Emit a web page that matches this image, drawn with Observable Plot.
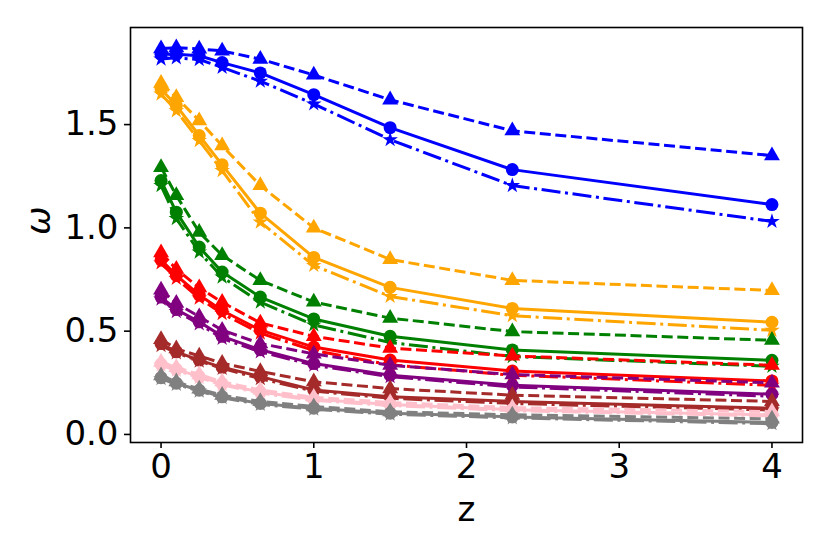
<!DOCTYPE html>
<html>
<head>
<meta charset="utf-8">
<script src="https://cdn.jsdelivr.net/npm/d3@7"></script>
<script src="https://cdn.jsdelivr.net/npm/@observablehq/plot@0.6"></script>
<style>
  html, body { margin: 0; padding: 0; background: #fff; }
  #chart { width: 830px; height: 554px; }
</style>
</head>
<body>
<div id="chart"></div>
<script>
// redshift grid
const z = [0, 0.1, 0.25, 0.4, 0.65, 1, 1.5, 2.3, 4];

// series values (solid = circle, dashed = triangle, dashdot = star)
const blueSolid   = [1.84, 1.84, 1.833, 1.80, 1.75, 1.645, 1.485, 1.282, 1.113];
const blueDashed  = [1.868, 1.872, 1.866, 1.857, 1.817, 1.74, 1.62, 1.47, 1.35];
const blueDashdot = [1.817, 1.823, 1.815, 1.777, 1.71, 1.60, 1.427, 1.205, 1.031];

const orangeSolid   = [1.672, 1.592, 1.447, 1.305, 1.071, 0.857, 0.712, 0.61, 0.543];
const orangeDashed  = [1.70, 1.632, 1.519, 1.398, 1.205, 1.00, 0.847, 0.746, 0.697];
const orangeDashdot = [1.648, 1.567, 1.423, 1.277, 1.028, 0.818, 0.668, 0.575, 0.504];

const greenSolid   = [1.229, 1.076, 0.907, 0.786, 0.665, 0.559, 0.475, 0.409, 0.359];
const greenDashed  = [1.293, 1.157, 0.979, 0.867, 0.746, 0.641, 0.563, 0.498, 0.456];
const greenDashdot = [1.205, 1.045, 0.883, 0.762, 0.64, 0.53, 0.445, 0.377, 0.33];

const redSolid   = [0.845, 0.77, 0.675, 0.60, 0.505, 0.423, 0.36, 0.307, 0.259];
const redDashed  = [0.88, 0.80, 0.71, 0.64, 0.54, 0.475, 0.418, 0.38, 0.335];
const redDashdot = [0.83, 0.755, 0.66, 0.585, 0.49, 0.407, 0.337, 0.287, 0.238];

const purpleSolid   = [0.665, 0.605, 0.545, 0.475, 0.41, 0.343, 0.287, 0.238, 0.195];
const purpleDashed  = [0.70, 0.635, 0.57, 0.505, 0.44, 0.39, 0.335, 0.29, 0.25];
const purpleDashdot = [0.655, 0.595, 0.535, 0.465, 0.40, 0.335, 0.28, 0.23, 0.185];

const brownSolid   = [0.44, 0.40, 0.36, 0.325, 0.28, 0.215, 0.182, 0.16, 0.127];
const brownDashed  = [0.46, 0.415, 0.38, 0.345, 0.305, 0.255, 0.222, 0.19, 0.16];
const brownDashdot = [0.43, 0.395, 0.355, 0.32, 0.27, 0.21, 0.175, 0.15, 0.118];

const pinkSolid   = [0.34, 0.315, 0.28, 0.245, 0.205, 0.17, 0.145, 0.12, 0.095];
const pinkDashed  = [0.35, 0.325, 0.29, 0.255, 0.215, 0.18, 0.155, 0.13, 0.11];
const pinkDashdot = [0.335, 0.31, 0.275, 0.24, 0.20, 0.165, 0.14, 0.115, 0.09];

const graySolid   = [0.275, 0.248, 0.214, 0.182, 0.15, 0.127, 0.103, 0.085, 0.058];
const grayDashed  = [0.285, 0.255, 0.22, 0.19, 0.16, 0.135, 0.11, 0.095, 0.075];
const grayDashdot = [0.27, 0.243, 0.21, 0.178, 0.145, 0.122, 0.098, 0.08, 0.052];

const xTicks = [0, 1, 2, 3, 4];
const yTicks = [0, 0.5, 1.0, 1.5];

const groups = [
  {color: "#0000ff", s: blueSolid, d: blueDashed, dd: blueDashdot},
  {color: "#ffa500", s: orangeSolid, d: orangeDashed, dd: orangeDashdot},
  {color: "#008000", s: greenSolid, d: greenDashed, dd: greenDashdot},
  {color: "#ff0000", s: redSolid, d: redDashed, dd: redDashdot},
  {color: "#800080", s: purpleSolid, d: purpleDashed, dd: purpleDashdot},
  {color: "#a52a2a", s: brownSolid, d: brownDashed, dd: brownDashdot},
  {color: "#ffc0cb", s: pinkSolid, d: pinkDashed, dd: pinkDashdot},
  {color: "#808080", s: graySolid, d: grayDashed, dd: grayDashdot}
];

const styles = [
  {key: "s",  dash: null,              symbol: "circle",   r: 6.5},
  {key: "d",  dash: "11,4.6",          symbol: "triangle", r: 5.9},
  {key: "dd", dash: "19,4.6,3,4.6",    symbol: "star",     r: 4.9}
];

const marks = [];
for (const g of groups) {
  for (const st of styles) {
    const rows = z.map((zz, i) => ({z: zz, w: g[st.key][i]}));
    marks.push(Plot.line(rows, {
      x: "z", y: "w", stroke: g.color, strokeWidth: 3,
      strokeDasharray: st.dash, strokeLinecap: "butt", strokeLinejoin: "round"
    }));
    marks.push(Plot.dot(rows, {
      x: "z", y: "w", fill: g.color, stroke: "none", symbol: st.symbol, r: st.r
    }));
  }
}

const fs = 34;
const chart = Plot.plot({
  width: 830,
  height: 554,
  marginLeft: 130,
  marginRight: 28,
  marginTop: 27,
  marginBottom: 112,
  style: {fontFamily: "DejaVu Sans", color: "black", background: "white", overflow: "visible"},
  x: {domain: [-0.2, 4.2]},
  y: {domain: [-0.039, 1.970]},
  marks: [
    ...marks,
    Plot.frame({stroke: "black", strokeWidth: 1.6}),
    Plot.axisX({ticks: xTicks, tickFormat: d => String(d), tickSize: 6, tickPadding: 5,
      fontSize: fs, strokeWidth: 1.6, label: null}),
    Plot.axisY({ticks: yTicks, tickFormat: d => d.toFixed(1), tickSize: 6, tickPadding: 6,
      fontSize: fs, strokeWidth: 1.6, label: null}),
    Plot.text(["z"], {frameAnchor: "bottom", dy: 68, text: d => d, fontSize: fs, lineAnchor: "middle"}),
    Plot.text(["ω"], {frameAnchor: "left", dx: -91, text: d => d, fontSize: fs, fontStyle: "italic", rotate: -90, lineAnchor: "middle"})
  ]
});
document.getElementById("chart").appendChild(chart);
</script>
</body>
</html>
